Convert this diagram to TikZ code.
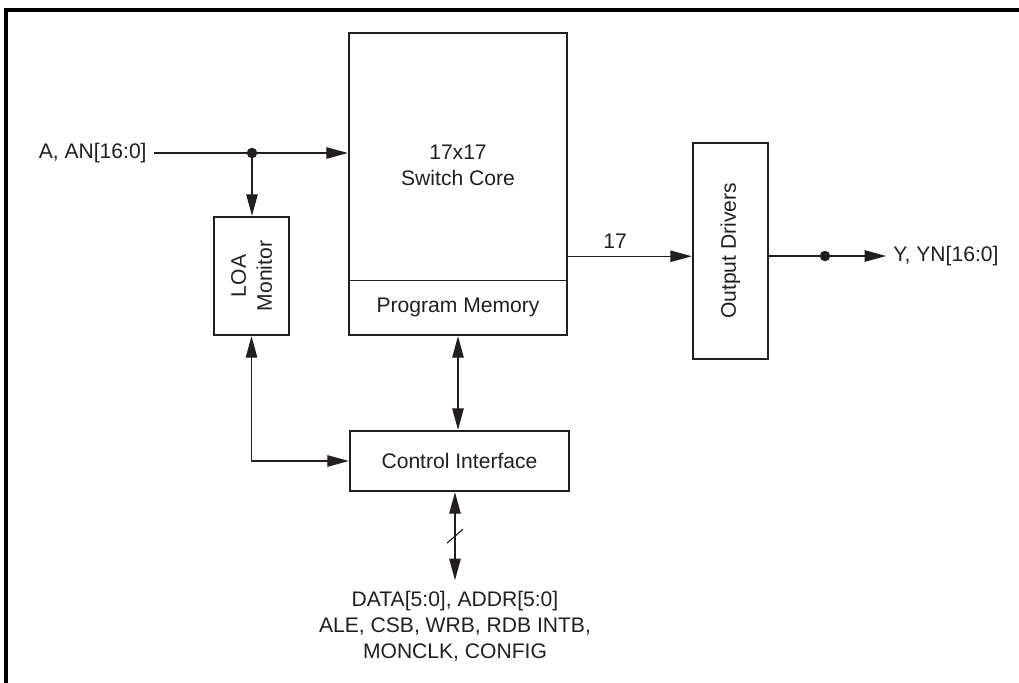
\documentclass[tikz,border=0pt]{standalone}
\usepackage{fontspec}
\setmainfont{Liberation Sans}
\usetikzlibrary{arrows.meta,positioning,calc}
\definecolor{swInk}{HTML}{231F20}
\tikzset{
    swBoxBase/.style={
        rectangle,
        draw=swInk,
        line width=1.4pt,
        font=\fontsize{12}{14.5}\selectfont,
        text=swInk,
        align=center,
        inner sep=0pt
    },
    swText/.style={
        font=\fontsize{12}{14.8}\selectfont,
        text=swInk,
        align=center,
        inner sep=0pt
    },
    swIoText/.style={swText, inner sep=4pt},
    % Connectors
    swLine/.style={draw=swInk, line width=0.65pt},
    swArrow/.style={swLine, -{Triangle[length=4.3mm,width=2.3mm]}},
    swBiArrow/.style={swLine, {Triangle[length=4.3mm,width=2.3mm]}-{Triangle[length=4.3mm,width=2.3mm]}},
    swDot/.style={circle, fill=swInk, inner sep=0pt, minimum size=2.1mm}
}
\begin{document}
\begin{tikzpicture}[x=0.02cm, y=-0.02cm]
\useasboundingbox (0,0) rectangle (1019,683);
% frame
\draw[draw=black, line width=2.2pt] (6,683) -- (6,10) -- (1019,10);

% blocks
\node[swBoxBase, minimum width=4.36cm, minimum height=6.04cm] (core) at (458,184) {};
\coordinate (memLeft) at ($(core.south west)+(0,-56)$);
\coordinate (memRight) at ($(core.south east)+(0,-56)$);
\draw[swLine] (memLeft) -- (memRight);
\node[swText] (coreText) at (458,165) {17x17\\Switch Core};
\node[swText] (memText) at (458,307) {Program Memory};

\node[swBoxBase, minimum width=1.5cm, minimum height=2.36cm] (loa) at (251.5,276) {};
\node[swText, rotate=90] (loaText) at (loa) {LOA\\Monitor};

\node[swBoxBase, minimum width=1.5cm, minimum height=4.32cm] (outDrv) at (730.5,251) {};
\node[swText, rotate=90] (outDrvText) at (outDrv) {Output Drivers};

\node[swBoxBase, minimum width=4.38cm, minimum height=1.2cm] (ctrl) at (459.5,461) {Control Interface};

% inputs
\node[swIoText, anchor=east] (inLabel) at (154,153) {A, AN[16:0]};
\node[swDot] (inDot) at (252,153) {};
\draw[swArrow] (inLabel.east) -- (inLabel.east -| core.west);
\draw[swArrow] (inDot.center) -- (inDot.center |- loa.north);

% outputs
\draw[swArrow] ([yshift=-3pt]outDrv.west -| core.east) -- node[swText, above=4pt, pos=0.38] (busWidth) {17} ([yshift=-3pt]outDrv.west);
\node[swDot] (outDot) at (825,256) {};
\node[swIoText, anchor=west] (outLabel) at (886,256) {Y, YN[16:0]};
\draw[swLine] (outDot.center -| outDrv.east) -- (outDot.center);
\draw[swArrow] (outDot.center) -- (outLabel.west);

% control
\draw[swBiArrow] (core.south) -- (core.south |- ctrl.north);
\draw[swBiArrow] (loa.south) |- (ctrl.west);
\node[swText, inner sep=6pt] (busLabel) at (455,626) {DATA[5:0], ADDR[5:0]\\ALE, CSB, WRB, RDB INTB,\\MONCLK, CONFIG};
\draw[swBiArrow] (ctrl.south -| busLabel.north) -- coordinate[pos=0.5] (busMid) (busLabel.north);
\draw[swLine] (busMid) +(-8,7) -- +(8,-7);
\end{tikzpicture}
\end{document}
